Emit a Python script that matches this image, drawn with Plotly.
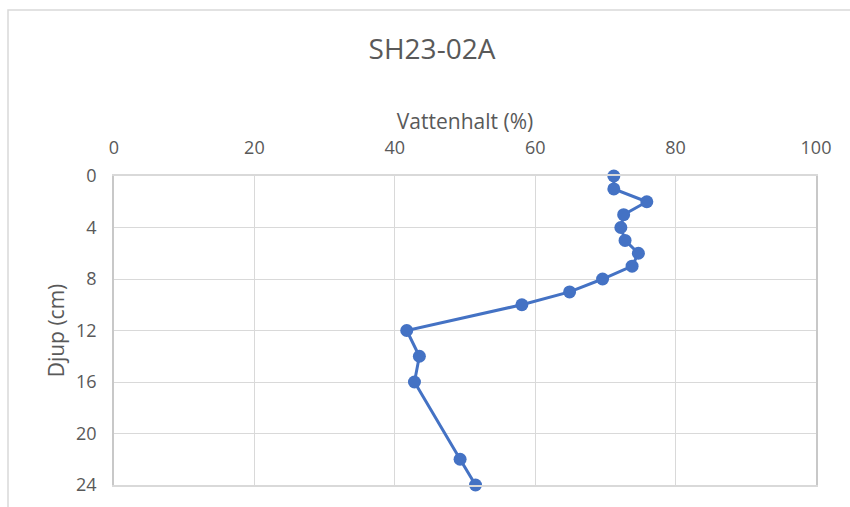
import plotly.graph_objects as go

depth_cm = [0, 1, 2, 3, 4, 5, 6, 7, 8, 9, 10, 12, 14, 16, 22, 24]
water_content_pct = [71.2, 71.2, 75.9, 72.6, 72.2, 72.8, 74.7, 73.8, 69.6, 64.9, 58.1, 41.7, 43.5, 42.8, 49.3, 51.5]

x_ticks = [0, 20, 40, 60, 80, 100]
y_ticks = [0, 4, 8, 12, 16, 20, 24]

FONT = "Open Sans, sans-serif"
GRAY = "#595959"
GRID = "#d9d9d9"
BLUE = "#4472C4"

W, H = 850, 507
L, R, T, B = 114, 816, 176, 485

fig = go.Figure()
fig.add_trace(go.Scatter(
    x=water_content_pct, y=depth_cm, mode="lines+markers",
    line=dict(color=BLUE, width=3),
    marker=dict(color=BLUE, size=13),
    showlegend=False, cliponaxis=False,
))

pw, ph = R - L, B - T
fig.update_layout(
    width=W, height=H,
    margin=dict(l=L, r=W - R, t=T, b=H - B),
    paper_bgcolor="white", plot_bgcolor="white",
    font=dict(family=FONT, color=GRAY, size=18),
    title=dict(text="SH23-02A", x=432 / W, xanchor="center", y=1 - 49 / H, yanchor="middle",
               font=dict(size=28, color=GRAY, family=FONT)),
    xaxis=dict(side="top", range=[0, 100], tickvals=x_ticks, showgrid=True, gridcolor=GRID,
               gridwidth=1, zeroline=False, showline=True, linecolor=GRID, linewidth=1.5,
               mirror=True, ticks="", automargin=False,
               ticklabelstandoff=13,
               title=dict(text="Vattenhalt (%)", font=dict(size=21, color=GRAY), standoff=0),
               tickfont=dict(size=18, color=GRAY)),
    yaxis=dict(range=[24, 0], tickvals=y_ticks, showgrid=True, gridcolor=GRID, gridwidth=1,
               zeroline=False, showline=True, linecolor="#c8c8c8", linewidth=1.5, mirror=True,
               ticks="", automargin=False, ticklabelstandoff=12,
               title=dict(text="Djup (cm)", font=dict(size=21, color=GRAY), standoff=6),
               tickfont=dict(size=18, color=GRAY)),
    shapes=[dict(type="rect", xref="paper", yref="paper",
                 x0=(8 - L) / pw, x1=(880 - L) / pw, y0=(B - 530) / ph, y1=(B - 10) / ph,
                 line=dict(color=GRID, width=1.5), fillcolor="rgba(0,0,0,0)", layer="below")],
)

fig.write_html("out.html", config={"displayModeBar": False},
               post_script="document.body.style.margin='0';document.body.style.overflow='hidden';")
